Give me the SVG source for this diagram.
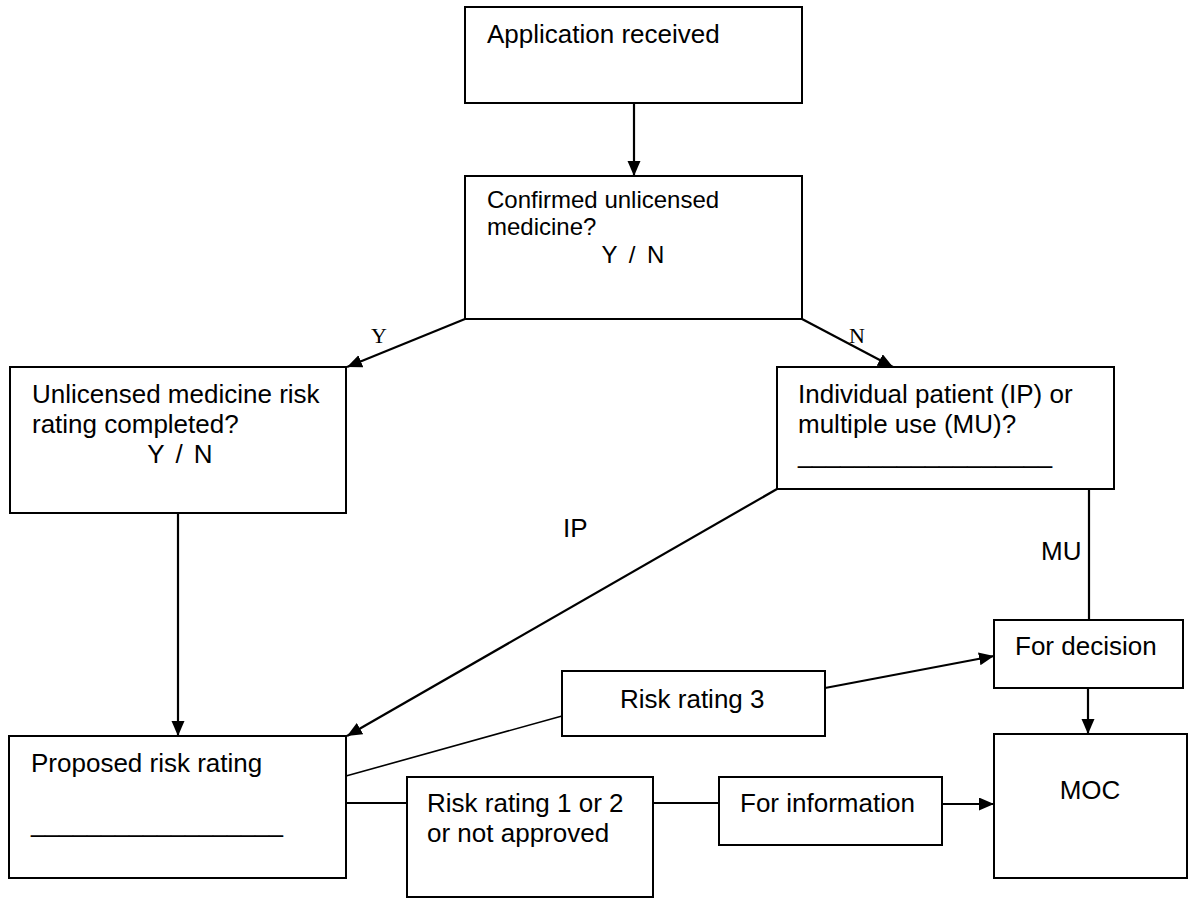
<svg xmlns="http://www.w3.org/2000/svg" width="1189" height="899" viewBox="0 0 1189 899">
<style>
.box{fill:#fff;stroke:#000;stroke-width:2}
.t{font-family:"Liberation Sans",Arial,sans-serif;font-size:26px;fill:#000}
.ts{font-family:"Liberation Sans",Arial,sans-serif;font-size:24px;fill:#000}
.lbl{font-family:"Liberation Serif","Times New Roman",serif;font-size:22px;fill:#000}
.c{fill:none;stroke:#000;stroke-width:2.2}
.thin{fill:none;stroke:#000;stroke-width:1.6}
</style>
<defs>
<marker id="ah" markerUnits="userSpaceOnUse" markerWidth="16" markerHeight="14" refX="15" refY="6.5" orient="auto">
<path d="M0,0 L15,6.5 L0,13 z" fill="#000"/>
</marker>
</defs>
<rect width="1189" height="899" fill="#fff"/>
<g id="connectors">
<line class="c" x1="634" y1="103" x2="634" y2="176" marker-end="url(#ah)"/>
<line class="c" x1="465" y1="319" x2="347" y2="367" marker-end="url(#ah)"/>
<line class="c" x1="802" y1="319" x2="893" y2="367" marker-end="url(#ah)"/>
<line class="c" x1="178" y1="513" x2="178" y2="736" marker-end="url(#ah)"/>
<line class="c" x1="777" y1="489" x2="347" y2="736" marker-end="url(#ah)"/>
<line class="c" x1="1089" y1="489" x2="1089" y2="620"/>
<line class="c" x1="1088" y1="688" x2="1088" y2="734" marker-end="url(#ah)"/>
<line class="thin" x1="346" y1="776" x2="562" y2="716"/>
<line class="c" x1="825" y1="688" x2="994" y2="656" marker-end="url(#ah)"/>
<line class="c" x1="346" y1="803" x2="407" y2="803"/>
<line class="c" x1="653" y1="803" x2="719" y2="803"/>
<line class="c" x1="942" y1="804" x2="994" y2="804" marker-end="url(#ah)"/>
<text class="lbl" x="371" y="343">Y</text>
<text class="lbl" x="849" y="343">N</text>
<text class="t" x="563" y="537">IP</text>
<text class="t" x="1041" y="560">MU</text>
</g>
<g id="n-application">
<rect class="box" x="465" y="7" width="337" height="96"/>
<text class="t" x="487" y="43">Application received</text>
</g>
<g id="n-confirmed">
<rect class="box" x="465" y="176" width="337" height="143"/>
<text class="ts" x="487" y="208">Confirmed unlicensed</text>
<text class="ts" x="487" y="235">medicine?</text>
<text class="ts" x="633" y="263" text-anchor="middle" word-spacing="5">Y / N</text>
</g>
<g id="n-unlicensed">
<rect class="box" x="10" y="367" width="336" height="146"/>
<text class="t" x="32" y="403">Unlicensed medicine risk</text>
<text class="t" x="32" y="433">rating completed?</text>
<text class="t" x="180" y="463" text-anchor="middle" word-spacing="4">Y / N</text>
</g>
<g id="n-individual">
<rect class="box" x="777" y="367" width="337" height="122"/>
<text class="t" x="798" y="403">Individual patient (IP) or</text>
<text class="t" x="798" y="433">multiple use (MU)?</text>
<text class="t" x="798" y="463" textLength="254" lengthAdjust="spacingAndGlyphs">__________________</text>
</g>
<g id="n-proposed">
<rect class="box" x="9" y="736" width="337" height="142"/>
<text class="t" x="31" y="772">Proposed risk rating</text>
<text class="t" x="31" y="832" textLength="252" lengthAdjust="spacingAndGlyphs">__________________</text>
</g>
<g id="n-rr3">
<rect class="box" x="562" y="671" width="263" height="65"/>
<text class="t" x="620" y="708">Risk rating 3</text>
</g>
<g id="n-rr12">
<rect class="box" x="407" y="777" width="246" height="120"/>
<text class="t" x="427" y="812">Risk rating 1 or 2</text>
<text class="t" x="427" y="842">or not approved</text>
</g>
<g id="n-forinfo">
<rect class="box" x="719" y="777" width="223" height="68"/>
<text class="t" x="740" y="812">For information</text>
</g>
<g id="n-fordecision">
<rect class="box" x="994" y="620" width="189" height="68"/>
<text class="t" x="1015" y="655">For decision</text>
</g>
<g id="n-moc">
<rect class="box" x="994" y="734" width="193" height="144"/>
<text class="t" x="1090" y="799" text-anchor="middle">MOC</text>
</g>
</svg>
